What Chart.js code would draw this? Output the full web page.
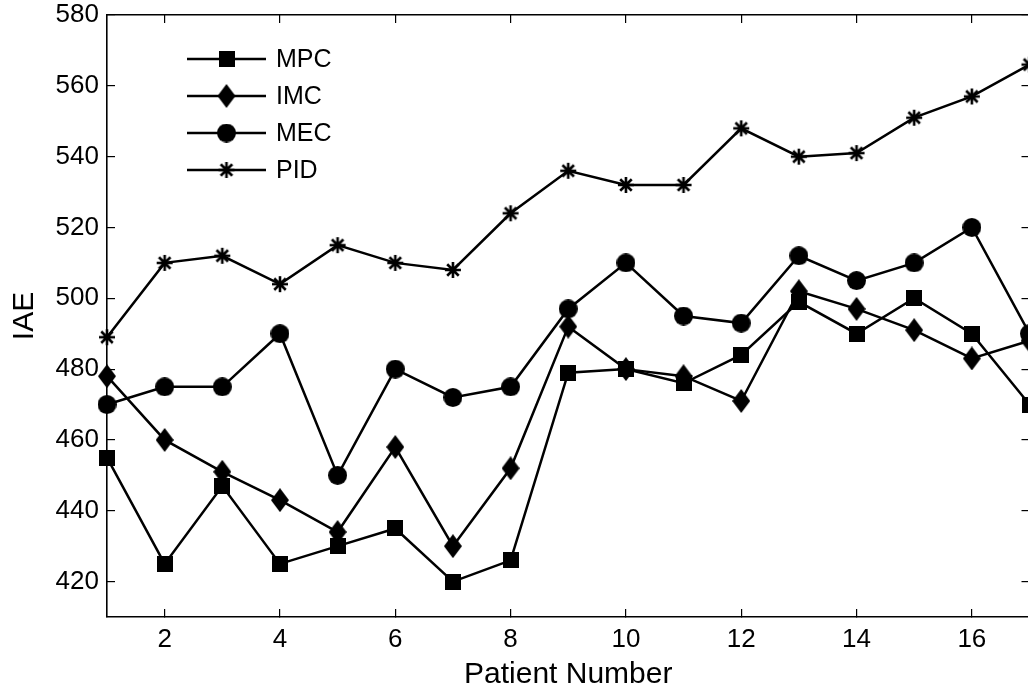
<!DOCTYPE html>
<html>
<head>
<meta charset="utf-8">
<title>IAE by patient</title>
<script src="https://cdn.jsdelivr.net/npm/chart.js@4.4.1/dist/chart.umd.min.js"></script>
<style>
  html, body { margin: 0; padding: 0; background: #fff; overflow: hidden; }
  #wrap { position: relative; width: 1040px; height: 693px; }
</style>
</head>
<body>
<div id="wrap"><canvas id="chart" width="1040" height="693"></canvas></div>
<script>
// ---- data ----
const patients = [1, 2, 3, 4, 5, 6, 7, 8, 9, 10, 11, 12, 13, 14, 15, 16, 17];
const seriesNames = ['MPC', 'IMC', 'MEC', 'PID'];
const mpcIAE = [455, 425, 447, 425, 430, 435, 420, 426, 479, 480, 476, 484, 499, 490, 500, 490, 470];
const imcIAE = [478, 460, 451, 443, 434, 458, 430, 452, 492, 480, 478, 471, 502, 497, 491, 483, 488];
const mecIAE = [470, 475, 475, 490, 450, 480, 472, 475, 497, 510, 495, 493, 512, 505, 510, 520, 490];
const pidIAE = [489, 510, 512, 504, 515, 510, 508, 524, 536, 532, 532, 548, 540, 541, 551, 557, 566];
const xTickValues = [2, 4, 6, 8, 10, 12, 14, 16];
const yTickValues = [420, 440, 460, 480, 500, 520, 540, 560, 580];

const FONT = '"Liberation Sans", Arial, Helvetica, sans-serif';
const INK = '#000';

// ---- marker glyphs ----
function makeMarker(w, h, paint) {
  const c = document.createElement('canvas');
  c.width = w; c.height = h;
  const g = c.getContext('2d');
  g.fillStyle = INK; g.strokeStyle = INK;
  paint(g, w, h);
  return c;
}
const squareMark = makeMarker(16, 16, (g, w, h) => g.fillRect(0, 0, w, h));
const diamondMark = makeMarker(18, 24, (g, w, h) => {
  g.beginPath();
  g.moveTo(w / 2, 0); g.lineTo(w, h / 2); g.lineTo(w / 2, h); g.lineTo(0, h / 2);
  g.closePath(); g.fill();
});
const circleMark = makeMarker(19, 19, (g, w, h) => {
  g.beginPath(); g.arc(w / 2, h / 2, w / 2, 0, Math.PI * 2); g.fill();
});
const starMark = makeMarker(18, 18, (g, w, h) => {
  g.lineWidth = 2.6; g.lineCap = 'butt';
  const c = w / 2, r = 8, d = r * 0.72;
  g.beginPath();
  g.moveTo(c, c - r); g.lineTo(c, c + r);
  g.moveTo(c - r, c); g.lineTo(c + r, c);
  g.moveTo(c - d, c - d); g.lineTo(c + d, c + d);
  g.moveTo(c + d, c - d); g.lineTo(c - d, c + d);
  g.stroke();
});
const markers = [squareMark, diamondMark, circleMark, starMark];
const seriesValues = [mpcIAE, imcIAE, mecIAE, pidIAE];

const datasets = seriesNames.map((name, i) => ({
  label: name,
  data: patients.map((p, k) => ({ x: p, y: seriesValues[i][k] })),
  borderColor: INK,
  backgroundColor: INK,
  borderWidth: 2.5,
  pointStyle: markers[i],
  pointRadius: 8,
  pointHoverRadius: 8,
  tension: 0,
  fill: false,
  clip: false
}));

// legend drawn inside the plot, line + marker + label per series
const innerLegend = {
  id: 'innerLegend',
  afterDatasetsDraw(chart) {
    const { ctx, chartArea } = chart;
    const x0 = chartArea.left + 80, x1 = chartArea.left + 159, xm = chartArea.left + 119.5;
    const xt = chartArea.left + 169;
    ctx.save();
    ctx.font = '25px ' + FONT;
    ctx.textBaseline = 'middle';
    ctx.textAlign = 'left';
    chart.data.datasets.forEach((ds, i) => {
      const y = chartArea.top + 44 + i * 37;
      ctx.strokeStyle = INK; ctx.lineWidth = 2.5;
      ctx.beginPath(); ctx.moveTo(x0, y); ctx.lineTo(x1, y); ctx.stroke();
      const m = ds.pointStyle;
      ctx.drawImage(m, xm - m.width / 2, y - m.height / 2);
      ctx.fillStyle = INK;
      ctx.fillText(ds.label, xt, y + 1);
    });
    ctx.restore();
  }
};

const setTicks = values => scale => { scale.ticks = values.map(v => ({ value: v })); };
const innerTicks = { display: true, drawOnChartArea: false, drawTicks: true, tickLength: -8, color: INK, lineWidth: 1.2 };
const frame = { display: true, color: INK, width: 1.6 };
const noEdgePad = s => { s.paddingTop = 0; s.paddingBottom = 0; s.paddingLeft = 0; s.paddingRight = 0; };

new Chart(document.getElementById('chart'), {
  type: 'line',
  data: { datasets },
  plugins: [innerLegend],
  options: {
    responsive: false,
    animation: false,
    devicePixelRatio: 1,
    layout: { padding: { left: 0, top: 15, right: 9, bottom: 0 } },
    plugins: { legend: { display: false }, tooltip: { enabled: false } },
    scales: {
      x: {
        type: 'linear', position: 'bottom', min: 1, max: 17,
        afterBuildTicks: setTicks(xTickValues),
        afterFit: s => { s.height = 76; noEdgePad(s); },
        grid: innerTicks, border: frame,
        ticks: { color: INK, font: { family: FONT, size: 26 }, padding: 15, maxRotation: 0 },
        title: { display: true, text: 'Patient Number', color: INK, font: { family: FONT, size: 30 }, padding: { top: 0, bottom: 0 } }
      },
      xTop: {
        type: 'linear', position: 'top', min: 1, max: 17,
        afterBuildTicks: setTicks(xTickValues),
        afterFit: s => { s.height = 0; noEdgePad(s); },
        grid: innerTicks, border: frame,
        ticks: { display: false }
      },
      y: {
        type: 'linear', position: 'left', min: 410, max: 580,
        afterBuildTicks: setTicks(yTickValues),
        afterFit: s => { s.width = 107; noEdgePad(s); },
        grid: innerTicks, border: frame,
        ticks: { color: INK, font: { family: FONT, size: 26 }, padding: 16 },
        title: { display: true, text: 'IAE', color: INK, font: { family: FONT, size: 30 }, padding: { top: 7, bottom: 0 } }
      },
      yRight: {
        type: 'linear', position: 'right', min: 410, max: 580,
        afterBuildTicks: setTicks(yTickValues),
        afterFit: s => { s.width = 0; noEdgePad(s); },
        grid: innerTicks, border: frame,
        ticks: { display: false }
      }
    }
  }
});
</script>
</body>
</html>
